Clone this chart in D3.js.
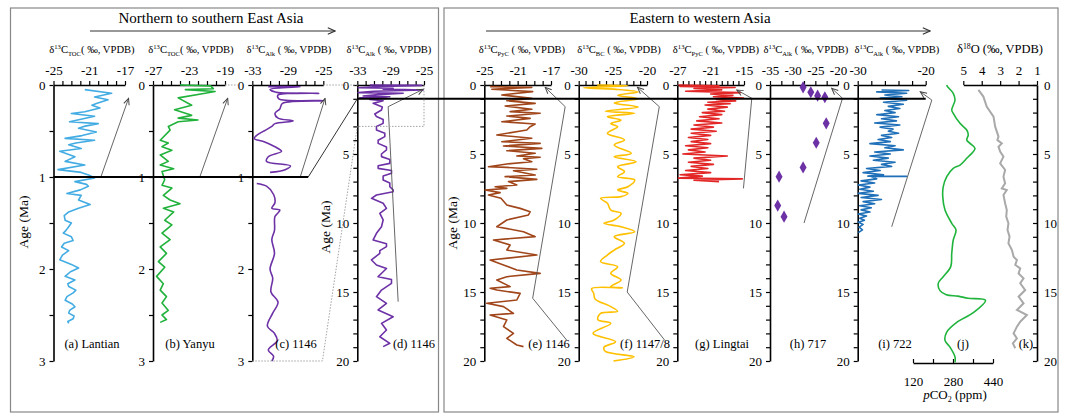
<!DOCTYPE html>
<html>
<head>
<meta charset="utf-8">
<script src="https://cdn.jsdelivr.net/npm/d3@7/dist/d3.min.js"></script>
<style>
  body { margin: 0; background: #fff; }
</style>
</head>
<body>
<svg id="chart" width="1067" height="414"></svg>
<script>
// --- Data: [age (Ma), value] ---
const lantian = [[0.05,-21.5],[0.09,-18.5],[0.13,-20.4],[0.16,-18.9],[0.20,-20.2],[0.22,-20.7],[0.25,-19.8],[0.29,-21.5],[0.31,-23.0],[0.34,-20.4],[0.37,-21.8],[0.40,-23.2],[0.42,-20.0],[0.45,-21.6],[0.47,-22.2],[0.51,-20.2],[0.55,-21.8],[0.58,-23.7],[0.60,-20.4],[0.63,-22.5],[0.65,-23.3],[0.69,-21.9],[0.72,-24.3],[0.78,-22.6],[0.83,-23.7],[0.87,-21.5],[0.92,-24.5],[0.95,-21.9],[0.98,-21.0],[1.01,-20.4],[1.05,-22.6],[1.08,-21.3],[1.10,-21.1],[1.14,-22.0],[1.18,-23.5],[1.20,-21.9],[1.25,-22.2],[1.30,-20.9],[1.34,-22.2],[1.38,-23.3],[1.42,-23.8],[1.47,-23.7],[1.50,-23.0],[1.54,-23.3],[1.58,-23.6],[1.61,-23.9],[1.65,-23.0],[1.69,-22.8],[1.72,-23.8],[1.76,-24.1],[1.80,-23.3],[1.85,-24.0],[1.90,-24.3],[1.95,-23.0],[1.99,-22.2],[2.03,-23.1],[2.08,-23.7],[2.12,-22.6],[2.16,-23.4],[2.19,-23.3],[2.23,-22.5],[2.26,-22.8],[2.30,-23.5],[2.34,-23.7],[2.38,-22.9],[2.41,-22.6],[2.45,-23.2],[2.48,-23.3],[2.51,-22.7],[2.54,-22.8],[2.57,-23.4],[2.59,-23.3]];

const yanyu = [[0.0,-24.0],[0.01,-20.6],[0.04,-20.3],[0.05,-23.4],[0.07,-20.1],[0.09,-21.2],[0.14,-24.2],[0.22,-22.7],[0.27,-24.6],[0.33,-22.7],[0.36,-24.2],[0.38,-22.0],[0.40,-24.2],[0.45,-25.3],[0.49,-25.1],[0.60,-26.2],[0.63,-25.3],[0.67,-26.0],[0.71,-24.9],[0.76,-26.2],[0.83,-25.3],[0.87,-26.2],[0.91,-24.7],[0.94,-26.0],[1.03,-25.7],[1.09,-26.0],[1.12,-24.9],[1.20,-25.85],[1.25,-25.1],[1.29,-24.0],[1.34,-25.85],[1.38,-24.7],[1.47,-25.7],[1.52,-24.9],[1.61,-26.0],[1.68,-25.1],[1.76,-26.2],[1.83,-25.5],[1.92,-26.4],[1.98,-25.7],[2.08,-26.6],[2.16,-25.85],[2.23,-26.2],[2.30,-25.5],[2.37,-26.0],[2.45,-25.3],[2.50,-26.0],[2.55,-25.5],[2.58,-26.2]];

const site1146Upper = [[0.018,-31.2],[0.018,-27.6],[0.047,-31.0],[0.083,-30.1],[0.09,-25.5],[0.109,-30.1],[0.15,-30.0],[0.17,-25.0],[0.2,-29.6],[0.26,-29.9],[0.31,-30.45],[0.36,-30.1],[0.39,-28.4],[0.42,-30.45],[0.45,-30.8],[0.49,-31.5],[0.54,-32.4],[0.58,-32.8],[0.62,-31.6],[0.69,-30.1],[0.72,-29.7],[0.78,-31.2],[0.83,-31.4],[0.88,-28.7],[0.92,-29.3],[0.95,-31.0]];

const site1146Lower = [[1.07,-32.5],[1.1,-31.4],[1.19,-30.6],[1.28,-30.45],[1.34,-30.8],[1.36,-29.9],[1.39,-30.1],[1.43,-30.45],[1.58,-30.5],[1.68,-30.8],[1.83,-30.5],[2.0,-31.0],[2.1,-30.7],[2.25,-30.9],[2.36,-30.1],[2.48,-30.7],[2.62,-31.3],[2.7,-30.5],[2.78,-30.2],[2.88,-31.2],[2.95,-30.6],[3.0,-30.8]];

const site1146Long = [[0,-31.5],[0.03,-25.3],[0.1,-30.0],[0.2,-32.9],[0.24,-28.7],[0.3,-29.9],[0.36,-25.1],[0.45,-31.0],[0.55,-32.9],[0.6,-27.5],[0.7,-30.5],[0.8,-32.3],[0.85,-29.1],[0.92,-32.7],[0.97,-29.5],[1.05,-31.5],[1.14,-29.9],[1.33,-31.1],[1.6,-30.0],[1.81,-30.1],[2.1,-30.9],[2.29,-30.7],[2.5,-29.9],[2.78,-29.9],[3.0,-30.7],[3.26,-30.7],[3.5,-29.7],[3.74,-29.7],[4.0,-30.5],[4.23,-30.5],[4.5,-29.5],[4.71,-29.5],[5.0,-30.1],[5.19,-30.1],[5.4,-29.1],[5.68,-29.1],[5.85,-30.5],[6.04,-30.5],[6.2,-28.9],[6.4,-28.9],[6.6,-29.9],[6.88,-29.9],[7.1,-29.1],[7.37,-29.1],[7.6,-28.7],[7.73,-28.7],[7.97,-30.7],[8.21,-31.3],[8.57,-29.9],[8.94,-29.5],[9.3,-30.3],[9.78,-29.9],[10.27,-30.1],[10.75,-30.7],[11.23,-31.1],[11.5,-29.5],[11.71,-29.5],[12.0,-30.3],[12.2,-30.3],[12.68,-31.3],[13.04,-30.7],[13.3,-29.5],[13.53,-29.9],[13.89,-30.5],[14.1,-28.9],[14.37,-28.9],[14.86,-30.1],[15.34,-30.7],[15.82,-29.5],[16.3,-30.5],[16.79,-28.7],[17.27,-30.1],[17.75,-29.5],[18.24,-30.3],[18.72,-29.1],[18.96,-29.9]];

const site1146PyC = [[0.12,-24.3],[0.17,-19.3],[0.31,-24.1],[0.48,-19.2],[0.72,-22.9],[0.97,-19.3],[1.14,-22.3],[1.33,-18.9],[1.52,-22.5],[1.76,-19.3],[1.93,-21.9],[2.05,-18.3],[2.25,-22.3],[2.42,-19.5],[2.66,-22.9],[2.83,-18.9],[3.02,-19.5],[3.26,-19.9],[3.62,-23.5],[3.86,-19.3],[4.11,-22.9],[4.23,-18.3],[4.42,-22.7],[4.59,-18.1],[4.76,-22.3],[4.95,-18.9],[5.14,-21.1],[5.24,-18.3],[5.34,-20.3],[5.56,-19.3],[5.72,-22.3],[5.92,-24.5],[5.97,-22.3],[6.11,-18.7],[6.21,-21.5],[6.52,-18.9],[6.64,-22.5],[6.84,-18.7],[7.0,-22.1],[7.25,-21.1],[7.37,-23.7],[7.49,-22.3],[7.61,-24.9],[7.8,-23.1],[7.97,-24.5],[8.21,-23.0],[8.7,-22.3],[8.94,-20.7],[9.18,-19.5],[9.42,-19.7],[9.78,-22.3],[10.27,-23.5],[10.63,-20.3],[10.99,-18.9],[11.23,-23.9],[11.59,-21.9],[11.96,-22.3],[12.32,-18.7],[12.68,-24.3],[13.04,-22.7],[13.41,-21.1],[13.65,-18.3],[13.89,-22.3],[14.13,-23.5],[14.61,-21.9],[14.73,-24.3],[14.86,-23.5],[15.1,-20.7],[15.58,-21.1],[15.82,-24.7],[16.06,-22.7],[16.55,-21.5],[16.67,-24.3],[17.03,-22.3],[17.51,-22.7],[18.0,-21.5],[18.36,-22.3],[18.84,-21.1],[18.96,-20.3]];

const site1147BC = [[0.0,-27.3],[0.05,-22.8],[0.2,-29.3],[0.3,-24.8],[0.5,-21.3],[0.75,-24.3],[1.0,-21.3],[1.3,-24.8],[1.6,-21.3],[1.9,-26.1],[2.05,-21.8],[2.3,-25.8],[2.55,-23.8],[2.8,-25.3],[3.02,-24.3],[3.5,-25.8],[3.98,-23.3],[4.35,-24.8],[4.95,-22.3],[5.2,-24.8],[5.56,-21.6],[5.92,-24.3],[6.28,-23.3],[6.64,-24.3],[6.88,-21.8],[7.37,-22.8],[7.61,-24.3],[7.85,-22.8],[8.09,-23.8],[8.21,-26.8],[8.57,-25.8],[9.06,-25.3],[9.3,-23.8],[9.78,-24.8],[10.02,-26.3],[10.27,-23.8],[10.63,-21.8],[10.99,-24.8],[11.47,-23.3],[11.96,-24.8],[12.32,-25.8],[12.8,-26.8],[13.17,-24.3],[13.65,-25.3],[14.13,-23.8],[14.6,-25.3],[14.7,-23.6],[14.75,-28.1],[15.1,-27.8],[15.5,-27.6],[16.06,-25.3],[16.4,-24.3],[16.55,-26.8],[17.0,-27.2],[17.27,-25.3],[18.0,-27.9],[18.6,-24.6],[19.0,-26.3],[19.3,-26.1],[19.7,-21.9],[20.0,-24.9]];

const lingtai = [[0.0,-26.8],[0.05,-19.5],[0.1,-26.5],[0.18,-16.6],[0.25,-24.0],[0.35,-19.0],[0.45,-25.5],[0.55,-15.6],[0.65,-21.0],[0.75,-17.0],[0.85,-20.5],[0.95,-15.1],[1.05,-20.0],[1.15,-16.5],[1.25,-21.5],[1.35,-17.5],[1.45,-22.0],[1.6,-18.0],[1.75,-21.5],[1.9,-18.5],[2.0,-22.5],[2.15,-19.0],[2.3,-23.0],[2.45,-19.5],[2.6,-23.5],[2.75,-19.0],[2.9,-24.0],[3.05,-20.5],[3.2,-24.5],[3.35,-20.0],[3.5,-24.5],[3.65,-21.0],[3.8,-25.0],[3.95,-21.5],[4.1,-24.5],[4.25,-21.0],[4.4,-25.5],[4.55,-21.5],[4.7,-25.0],[4.85,-22.0],[5.0,-26.0],[5.15,-18.0],[5.3,-24.0],[5.45,-21.0],[5.6,-25.0],[5.75,-20.5],[5.9,-24.5],[6.05,-21.5],[6.2,-25.5],[6.35,-21.0],[6.5,-26.5],[6.6,-22.5],[6.75,-26.8],[6.8,-15.3],[6.9,-24.0],[7.0,-19.5]];

const site717 = [[0.17,-27.7],[0.53,-26.0],[0.77,-24.5],[0.89,-22.9],[2.78,-22.6],[4.18,-24.8],[5.97,-27.7],[6.64,-33.0],[8.74,-33.3],[9.54,-31.9]];

const site722 = [[0.36,-26.5],[0.4,-22.5],[0.5,-27.2],[0.6,-22.8],[0.72,-26.0],[0.85,-23.5],[0.95,-26.7],[1.1,-22.8],[1.25,-26.2],[1.4,-23.3],[1.55,-25.5],[1.7,-23.8],[1.85,-26.0],[2.0,-24.5],[2.15,-27.2],[2.3,-24.0],[2.45,-26.5],[2.6,-24.3],[2.75,-27.5],[2.9,-23.8],[3.05,-26.7],[3.2,-24.8],[3.35,-25.5],[3.5,-24.0],[3.65,-26.5],[3.8,-25.0],[3.95,-27.0],[4.1,-25.2],[4.25,-28.2],[4.4,-24.5],[4.55,-26.0],[4.7,-23.3],[4.85,-27.5],[5.0,-25.2],[5.15,-28.2],[5.3,-25.5],[5.45,-27.7],[5.6,-24.5],[5.75,-26.5],[5.9,-25.0],[6.05,-28.7],[6.2,-26.7],[6.35,-29.2],[6.5,-26.2],[6.6,-28.5],[6.62,-22.8],[6.65,-28.0],[6.8,-27.2],[6.95,-29.5],[7.1,-27.5],[7.25,-29.9],[7.4,-28.2],[7.55,-29.7],[7.7,-27.7],[7.85,-29.9],[8.0,-27.0],[8.15,-29.5],[8.3,-26.5],[8.45,-29.2],[8.6,-27.5],[8.75,-29.7],[8.9,-28.0],[9.05,-29.5],[9.2,-28.2],[9.35,-29.9],[9.5,-28.7],[9.65,-29.7],[9.8,-29.0],[9.95,-29.9],[10.1,-29.2],[10.3,-29.8],[10.5,-29.3],[10.7,-29.9]];

const pco2 = [[0.0,255],[0.12,258],[0.6,281],[1.09,288],[1.81,275],[2.05,281],[2.78,308],[3.26,335],[3.62,341],[3.99,335],[4.23,348],[4.59,368],[5.31,335],[5.8,308],[6.04,281],[6.64,255],[7.37,241],[8.09,239],[9.06,248],[10.02,275],[10.51,292],[11.23,281],[12.2,275],[13.16,271],[13.89,241],[14.37,221],[14.9,228],[15.2,253],[15.3,300],[15.45,340],[15.6,410],[16.5,361],[17.2,295],[17.9,255],[18.5,248],[19.0,268],[19.7,288],[20.1,288]];

const d18O = [[0.36,4.18],[0.84,3.91],[1.57,3.73],[2.29,3.36],[3.02,3.27],[3.74,3.09],[3.99,3.15],[4.23,2.91],[4.47,3.09],[4.83,3.0],[5.19,2.82],[5.68,3.0],[6.16,2.73],[6.64,2.82],[7.13,2.73],[7.49,2.91],[7.61,2.64],[7.97,2.82],[8.57,2.73],[9.06,2.64],[9.54,2.67],[10.02,2.55],[10.51,2.6],[10.99,2.49],[11.47,2.55],[11.96,2.36],[12.44,2.27],[12.68,2.09],[13.04,2.18],[13.29,1.91],[13.65,2.0],[14.01,1.73],[14.37,1.91],[14.86,1.64],[15.34,2.0],[15.82,1.73],[16.3,2.09],[16.67,1.55],[17.15,1.91],[17.51,2.09],[18.0,2.27],[18.36,2.09],[18.72,2.31],[19.08,2.18]];

// tick labels
const ageLabelsShort = [0, 1, 2, 3];
const ageLabelsLong = [0, 5, 10, 15, 20];
const pco2Ticks = [120, 200, 280, 360, 440];
const pco2Labels = [120, 280, 440];
const d18OTicks = [5, 4, 3, 2, 1];

// trend arrows, [age, value] in each panel's units
const trends = {
  a: [[1.0,-19.7],[0.145,-16.6]],
  b: [[1.0,-21.8],[0.145,-18.7]],
  c: [[1.0,-27.6],[0.145,-24.8]],
  d: [[15.7,-28.1],[1.57,-29.3],[0.31,-25.1]],
  e: [[18.5,-15.1],[15.45,-19.2],[1.57,-15.3],[0.17,-17.7]],
  f: [[18.5,-17.4],[15.0,-22.9],[1.57,-18.2],[0.17,-21.4]],
  g: [[7.49,-15.1],[0.96,-13.6],[0.36,-16.3]],
  h: [[10.0,-27.5],[0.96,-19.0],[0.24,-21.4]],
  i: [[10.27,-25.0],[1.09,-19.1],[0.49,-20.8]]
};

const FONT = "'Liberation Serif', 'Times New Roman', serif";
const svg = d3.select("#chart").attr("font-family", FONT);
const yShort = d3.scaleLinear().domain([0, 3]).range([85, 361]);
const yLong = d3.scaleLinear().domain([0, 20]).range([85, 361]);

// --- markers ---
const defs = svg.append("defs");
function marker(id, size, color) {
  defs.append("marker").attr("id", id)
    .attr("viewBox", "0 0 10 10").attr("refX", 9).attr("refY", 5)
    .attr("markerWidth", size).attr("markerHeight", size)
    .attr("markerUnits", "userSpaceOnUse").attr("orient", "auto")
    .append("path").attr("d", "M1,1.5 L9,5 L1,8.5")
    .attr("fill", "none").attr("stroke", color).attr("stroke-width", 1.2);
}
marker("head", 9, "#333");
marker("headSmall", 8, "#444");

// --- boxes and titles ---
svg.append("rect").attr("x", 10.5).attr("y", 8).attr("width", 428).attr("height", 404)
  .attr("fill", "none").attr("stroke", "#888").attr("stroke-width", 1.2);
svg.append("rect").attr("x", 444).attr("y", 8).attr("width", 614).attr("height", 404)
  .attr("fill", "none").attr("stroke", "#888").attr("stroke-width", 1.2);

svg.append("text").attr("x", 211).attr("y", 23).attr("text-anchor", "middle")
  .attr("font-size", 15).text("Northern to southern East Asia");
svg.append("text").attr("x", 700).attr("y", 23).attr("text-anchor", "middle")
  .attr("font-size", 15).text("Eastern to western Asia");
[[90, 335], [486, 930]].forEach(([x0, x1]) => {
  svg.append("line").attr("x1", x0).attr("x2", x1).attr("y1", 31).attr("y2", 31)
    .attr("stroke", "#333").attr("stroke-width", 1).attr("marker-end", "url(#head)");
});

function richText(x, y, parts, size) {
  const t = svg.append("text").attr("x", x).attr("y", y)
    .attr("text-anchor", "middle").attr("font-size", size);
  let shift = 0;
  parts.forEach(([s, type]) => {
    const target = type === "sup" ? -4.5 : type === "sub" ? 2.5 : 0;
    t.append("tspan").attr("dy", target - shift)
      .attr("font-size", type ? size * 0.62 : size).text(s);
    shift = target;
  });
  return t;
}

function styleAxis(g) {
  g.attr("font-family", FONT).attr("font-size", 13);
  g.select(".domain").attr("stroke", "#000").attr("stroke-width", 1.6);
  g.selectAll(".tick line").attr("stroke", "#000").attr("stroke-width", 1.2);
  g.selectAll(".tick text").attr("fill", "#000");
}

// --- panels ---
const panels = [
  {id: "a", range: [53.5, 125], dom: [-25, -17], step: 1, labels: [-25, -21, -17], long: false, color: "#43ace3", sub: "TOC", gap: "", tx: 92, tag: "(a) Lantian", lx: 92, series: [lantian]},
  {id: "b", range: [153, 225], dom: [-27, -19], step: 1, labels: [-27, -23, -19], long: false, color: "#21b23b", sub: "TOC", gap: "", tx: 191, tag: "(b) Yanyu", lx: 190, series: [yanyu]},
  {id: "c", range: [252.3, 323.3], dom: [-33, -25], step: 1, labels: [-33, -29, -25], long: false, color: "#6d31a6", sub: "Alk", gap: " ", tx: 289, tag: "(c) 1146", lx: 296, series: [site1146Upper, site1146Lower], smooth: true},
  {id: "d", range: [357.3, 424], dom: [-33, -25], step: 1, labels: [-33, -29, -25], long: true, color: "#6d31a6", sub: "Alk", gap: " ", tx: 389, tag: "(d) 1146", lx: 414, series: [site1146Long]},
  {id: "e", range: [484.3, 551], dom: [-25, -17], step: 1, labels: [-25, -21, -17], long: true, color: "#a0461a", sub: "PyC", gap: " ", tx: 522, tag: "(e) 1146", lx: 549, series: [site1146PyC]},
  {id: "f", range: [578.7, 647], dom: [-30, -20], step: 1, labels: [-30, -25, -20], long: true, color: "#ffc000", sub: "BC", gap: " ", tx: 619, tag: "(f) 1147/8", lx: 645, series: [site1147BC], smooth: true},
  {id: "g", range: [677.3, 744], dom: [-27, -15], step: 1, labels: [-27, -21, -15], long: true, color: "#e32626", sub: "PyC", gap: " ", tx: 716, tag: "(g) Lingtai", lx: 722, series: [lingtai]},
  {id: "h", range: [770, 838], dom: [-35, -20], step: 2.5, labels: [-35, -30, -25, -20], long: true, color: "#6d31a6", sub: "Alk", gap: " ", tx: 806, tag: "(h) 717", lx: 808, points: site717},
  {id: "i", range: [857.7, 925.7], dom: [-30, -20], step: 2, labels: [-30, -20], long: true, color: "#1f70b8", sub: "Alk", gap: " ", tx: 897, tag: "(i) 722", lx: 895, series: [site722]}
];

const scales = {};
panels.forEach(p => {
  const x = d3.scaleLinear().domain(p.dom).range(p.range);
  const y = p.long ? yLong : yShort;
  scales[p.id] = x;

  const topTicks = d3.range(p.dom[0], p.dom[1] + p.step / 2, p.step);
  svg.append("g").attr("transform", `translate(0,${y.range()[0]})`)
    .call(d3.axisTop(x).tickValues(topTicks).tickSize(4).tickSizeOuter(0).tickPadding(6)
      .tickFormat(d => p.labels.includes(d) ? String(d) : ""))
    .call(styleAxis);

  const ageTicks = p.long ? d3.range(0, 20.5, 1) : d3.range(0, 3.01, 0.5);
  const ageLabels = p.long ? ageLabelsLong : ageLabelsShort;
  svg.append("g").attr("transform", `translate(${p.range[0]},0)`)
    .call(d3.axisLeft(y).tickValues(ageTicks).tickSize(4).tickSizeOuter(0).tickPadding(4)
      .tickFormat(d => ageLabels.includes(d) ? String(d) : ""))
    .call(styleAxis);

  richText(p.tx, 53, [["δ"], ["13", "sup"], ["C"], [p.sub, "sub"], [p.gap + "( ‰, VPDB)"]], 10.6);

  const line = d3.line().x(d => x(d[1])).y(d => y(d[0]))
    .curve(p.smooth ? d3.curveCatmullRom : d3.curveLinear);
  (p.series || []).forEach(s => {
    svg.append("path").datum(s).attr("d", line)
      .attr("fill", "none").attr("stroke", p.color).attr("stroke-width", 1.6)
      .attr("stroke-linejoin", "round");
  });
  if (p.points) {
    svg.append("g").selectAll("path").data(p.points).join("path")
      .attr("transform", d => `translate(${x(d[1])},${y(d[0])})`)
      .attr("d", d3.symbol(d3.symbolDiamond, 42))
      .attr("fill", p.color);
  }

  const trendLine = d3.line().x(d => x(d[1])).y(d => y(d[0]));
  svg.append("path").datum(trends[p.id]).attr("d", trendLine)
    .attr("fill", "none").attr("stroke", "#555").attr("stroke-width", 0.9)
    .attr("marker-end", "url(#headSmall)");

  svg.append("text").attr("x", p.lx).attr("y", 348).attr("text-anchor", "middle")
    .attr("font-size", 12.5).text(p.tag);
});

// --- panel k: benthic d18O ---
const xK = d3.scaleLinear().domain([5, 1]).range([963.3, 1037]);
svg.append("g").attr("transform", "translate(0,85)")
  .call(d3.axisTop(xK).tickValues(d18OTicks).tickSize(4).tickSizeOuter(0).tickPadding(6)
    .tickFormat(d => String(d)))
  .call(styleAxis);
svg.append("g").attr("transform", "translate(1037,0)")
  .call(d3.axisRight(yLong).tickValues(d3.range(0, 20.5, 1)).tickSize(-4).tickSizeOuter(0).tickPadding(7)
    .tickFormat(d => ageLabelsLong.includes(d) ? String(d) : ""))
  .call(styleAxis);
svg.append("path").datum(d18O)
  .attr("d", d3.line().x(d => xK(d[1])).y(d => yLong(d[0])))
  .attr("fill", "none").attr("stroke", "#a9a9a9").attr("stroke-width", 2);
richText(1000, 53, [["δ"], ["18", "sup"], ["O (‰, VPDB)"]], 12.5);
svg.append("text").attr("x", 1026).attr("y", 348).attr("text-anchor", "middle")
  .attr("font-size", 12.5).text("(k)");

// --- panel j: pCO2 ---
const xJ = d3.scaleLinear().domain([120, 440]).range([913, 993]);
svg.append("g").attr("transform", "translate(0,363)")
  .call(d3.axisBottom(xJ).tickValues(pco2Ticks).tickSize(-4).tickSizeOuter(0).tickPadding(14)
    .tickFormat(d => pco2Labels.includes(d) ? String(d) : ""))
  .call(styleAxis);
svg.append("path").datum(pco2)
  .attr("d", d3.line().x(d => xJ(d[1])).y(d => yLong(d[0])).curve(d3.curveCatmullRom))
  .attr("fill", "none").attr("stroke", "#20b43c").attr("stroke-width", 1.6);
const pl = svg.append("text").attr("x", 955).attr("y", 399).attr("text-anchor", "middle").attr("font-size", 13);
pl.append("tspan").attr("font-style", "italic").text("p");
pl.append("tspan").text("CO");
pl.append("tspan").attr("font-size", 8).attr("dy", 2.5).text("2");
pl.append("tspan").attr("dy", -2.5).text(" (ppm)");
svg.append("text").attr("x", 963).attr("y", 348).attr("text-anchor", "middle")
  .attr("font-size", 12.5).text("(j)");

// --- Age labels ---
[[28, 222], [330, 227], [457, 223]].forEach(([x, y]) => {
  svg.append("text").attr("transform", `translate(${x},${y}) rotate(-90)`)
    .attr("text-anchor", "middle").attr("font-size", 13.5).text("Age (Ma)");
});

// --- connections between panels ---
const sa = scales.a, sc = scales.c, sd = scales.d, si = scales.i;
svg.append("line").attr("x1", sa(-25)).attr("x2", sc(-26.7))
  .attr("y1", yShort(1)).attr("y2", yShort(1)).attr("stroke", "#000").attr("stroke-width", 2);
svg.append("line").attr("x1", sc(-26.7)).attr("y1", yShort(1))
  .attr("x2", sd(-33)).attr("y2", yLong(1)).attr("stroke", "#333").attr("stroke-width", 1);
svg.append("line").attr("x1", sd(-33)).attr("x2", si(-20))
  .attr("y1", yLong(1)).attr("y2", yLong(1)).attr("stroke", "#000").attr("stroke-width", 2);

const dotted = path => svg.append("path").attr("d", path).attr("fill", "none")
  .attr("stroke", "#999").attr("stroke-width", 0.9).attr("stroke-dasharray", "1.5,1.5");
const sb = scales.b;
dotted(`M${sb(-19)},${yShort(0)}H${sb(-17.6)}`);
dotted(`M${sc(-25)},${yShort(0)}H${sd(-33)}`);
dotted(`M${sc(-33)},${yShort(3)}H${sc(-25.1)}L${sd(-33)},${yLong(3)}H${sd(-25)}V${yLong(0)}`);
</script>
</body>
</html>
